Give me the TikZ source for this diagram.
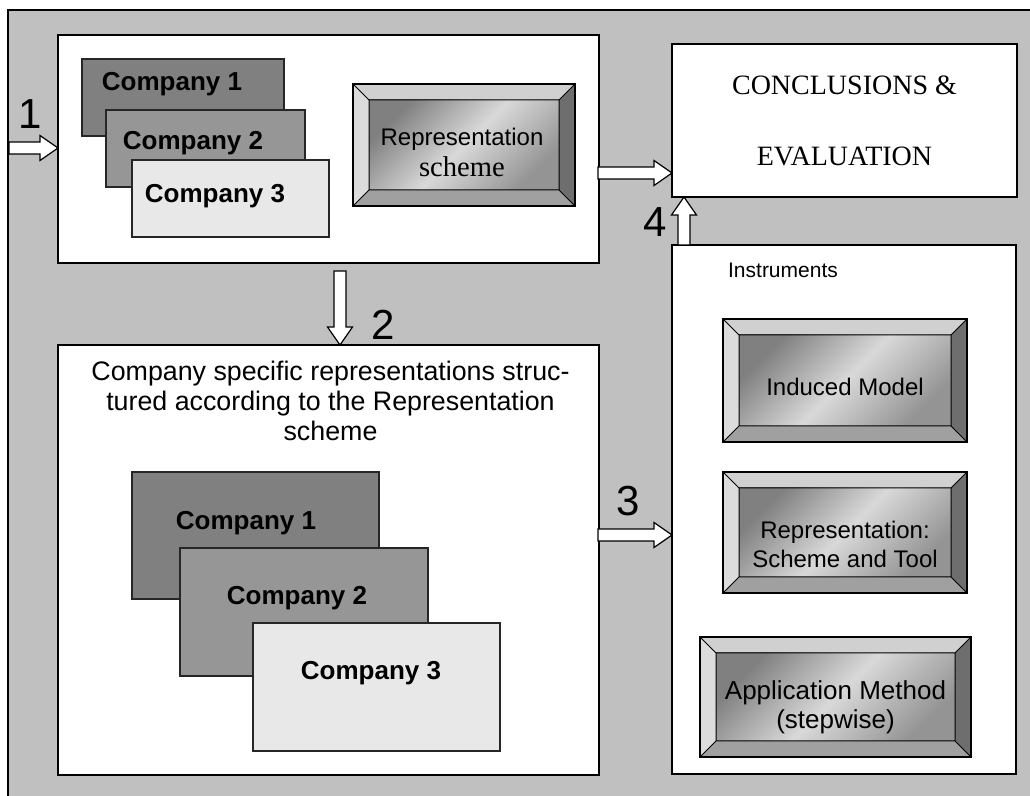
\documentclass[tikz,border=0pt]{standalone}
\usepackage{fontspec}
\setmainfont{Liberation Serif}
\setsansfont{Liberation Sans}
\usetikzlibrary{calc,fit}
\definecolor{framegray}{HTML}{C0C0C0}
\definecolor{compdark}{HTML}{808080}
\definecolor{compmid}{HTML}{969696}
\definecolor{complight}{HTML}{E8E8E8}
\definecolor{bevtop}{HTML}{D0D0D0}
\definecolor{bevleft}{HTML}{DCDCDC}
\definecolor{bevright}{HTML}{6E6E6E}
\definecolor{bevbot}{HTML}{A0A0A0}

% white block arrow from #1 to #2
\newcommand{\blockarrow}[2]{%
  \draw[blockarr] let \p1=(#1), \p2=(#2),
    \n1={veclen(\x2-\x1,\y2-\y1)}, \n2={atan2(\y2-\y1,\x2-\x1)} in
    [rotate around={\n2:(\p1)}]
    (\x1,\y1+3pt) -- (\x1+\n1-9pt,\y1+3pt) -- (\x1+\n1-9pt,\y1+6.25pt) -- (\x1+\n1,\y1)
    -- (\x1+\n1-9pt,\y1-6.25pt) -- (\x1+\n1-9pt,\y1-3pt) -- (\x1,\y1-3pt) -- cycle;}

\begin{document}
\begin{tikzpicture}[x={(0.5pt,0)}, y={(0,-0.5pt)}]
\tikzstyle{panel}=[draw=black, line width=0.75pt, fill=white, inner sep=0pt, outer sep=0pt]
\tikzstyle{compbox}=[draw=black!85, line width=0.6pt, inner sep=0pt, outer sep=0pt]
\tikzstyle{comptext}=[font=\sffamily\bfseries\fontsize{13}{15}\selectfont, inner sep=0pt]
\tikzstyle{steplabel}=[font=\sffamily\fontsize{21}{24}\selectfont, inner sep=0pt]
\tikzstyle{blockarr}=[draw=black, line width=0.6pt, fill=white]
\tikzstyle{btntext}=[font=\sffamily\fontsize{12}{14.5}\selectfont, align=center, inner sep=0pt]
\tikzstyle{bevelbtn}=[draw=black, line width=0.6pt, inner sep=0pt, outer sep=0pt,
  path picture={
    \coordinate (bnw) at (path picture bounding box.north west);
    \coordinate (bne) at (path picture bounding box.north east);
    \coordinate (bsw) at (path picture bounding box.south west);
    \coordinate (bse) at (path picture bounding box.south east);
    \coordinate (inw) at ($(bnw)+(8pt,-8pt)$);
    \coordinate (ine) at ($(bne)+(-8pt,-8pt)$);
    \coordinate (isw) at ($(bsw)+(8pt,8pt)$);
    \coordinate (ise) at ($(bse)+(-8pt,8pt)$);
    \fill[bevtop] (bnw) -- (bne) -- (ine) -- (inw) -- cycle;
    \fill[bevleft] (bnw) -- (inw) -- (isw) -- (bsw) -- cycle;
    \fill[bevright] (bne) -- (bse) -- (ise) -- (ine) -- cycle;
    \fill[bevbot] (bsw) -- (isw) -- (ise) -- (bse) -- cycle;
    \shade[top color=black!50, bottom color=black!42, middle color=black!15, shading angle=45] (inw) rectangle (ise);
    \draw[line width=0.5pt] (inw) rectangle (ise) (bnw) -- (inw) (bne) -- (ine) (bsw) -- (isw) (bse) -- (ise);
  }]

\useasboundingbox (0,0) rectangle (1030,796);
\fill[framegray] (8,10) rectangle (1030,796);
\draw[line width=1.2pt] (8,796) -- (8,10) -- (1030,10);

% panels
\node[panel, fit={(58,35) (599,263)}] (topbox) {};
\node[panel, fit={(672,44) (1017,197)}] (concl) {};
\node[panel, fit={(58,345) (599,775)}] (lowbox) {};
\node[panel, fit={(672,245) (1016,774)}] (instr) {};

\node[font=\rmfamily\fontsize{14}{35.5}\selectfont, align=center] (concltext) at (concl.center) {CONCLUSIONS \&\\EVALUATION};
\node[font=\sffamily\fontsize{10.5}{12}\selectfont] (instrlbl) at (783,270) {Instruments};
\node[font=\sffamily\fontsize{13.4}{15}\selectfont, align=center, anchor=north, inner sep=0pt] (lowlbl) at ($(lowbox.north)+(2,16)$)
  {Company specific representations struc-\\tured according to the Representation\\scheme};

% companies, top
\node[compbox, fill=compdark, fit={(82,59) (284,136)}] (tc1) {};
\node[compbox, fill=compmid, fit={(106,110) (305,187)}] (tc2) {};
\node[compbox, fill=complight, fit={(132,160) (329,237)}] (tc3) {};
\node[comptext] (tc1t) at (172,84) {Company 1};
\node[comptext] (tc2t) at (193,143) {Company 2};
\node[comptext] (tc3t) at (215,196) {Company 3};

% companies, bottom
\node[compbox, fill=compdark, fit={(132,472) (379,599)}] (lc1) {};
\node[compbox, fill=compmid, fit={(180,548) (428,676)}] (lc2) {};
\node[compbox, fill=complight, fit={(253,623) (500,751)}] (lc3) {};
\node[comptext] (lc1t) at (246,523) {Company 1};
\node[comptext] (lc2t) at (297,598) {Company 2};
\node[comptext] (lc3t) at (371,673) {Company 3};

% buttons
\node[bevelbtn, fit={(353,84) (575,206)}] (repsch) {};
\node[bevelbtn, fit={(723,319) (967,442)}] (induced) {};
\node[bevelbtn, fit={(723,472) (967,593)}] (reptool) {};
\node[bevelbtn, fit={(700,637) (971,757)}] (applic) {};
\node[btntext] (repscht) at ($(repsch.center)+(-2,7)$) {Representation\\[1pt]{\rmfamily\fontsize{14.3}{16}\selectfont scheme}};
\node[btntext] (inducedt) at ($(induced.center)+(0,6)$) {Induced Model};
\node[btntext] (reptoolt) at ($(reptool.center)+(0,12)$) {Representation:\\Scheme and Tool};
\node[btntext, font=\sffamily\fontsize{13}{14.5}\selectfont] (applict) at ($(applic.center)+(0,10)$) {Application Method\\(stepwise)};

% arrows
\coordinate (in1) at (9,148);
\coordinate (out1) at (598,173);
\coordinate (dn2) at (340,271);
\coordinate (out3) at (598,535);
\coordinate (up4) at (684,245);
\blockarrow{in1}{topbox.west |- in1}
\blockarrow{out1}{concl.west |- out1}
\blockarrow{dn2}{lowbox.north -| dn2}
\blockarrow{out3}{instr.west |- out3}
\blockarrow{up4}{concl.south -| up4}

\node[steplabel] (n1) at (30,114) {1};
\node[steplabel] (n2) at (383,325) {2};
\node[steplabel] (n3) at (628,501) {3};
\node[steplabel] (n4) at (655,222) {4};

\end{tikzpicture}
\end{document}
